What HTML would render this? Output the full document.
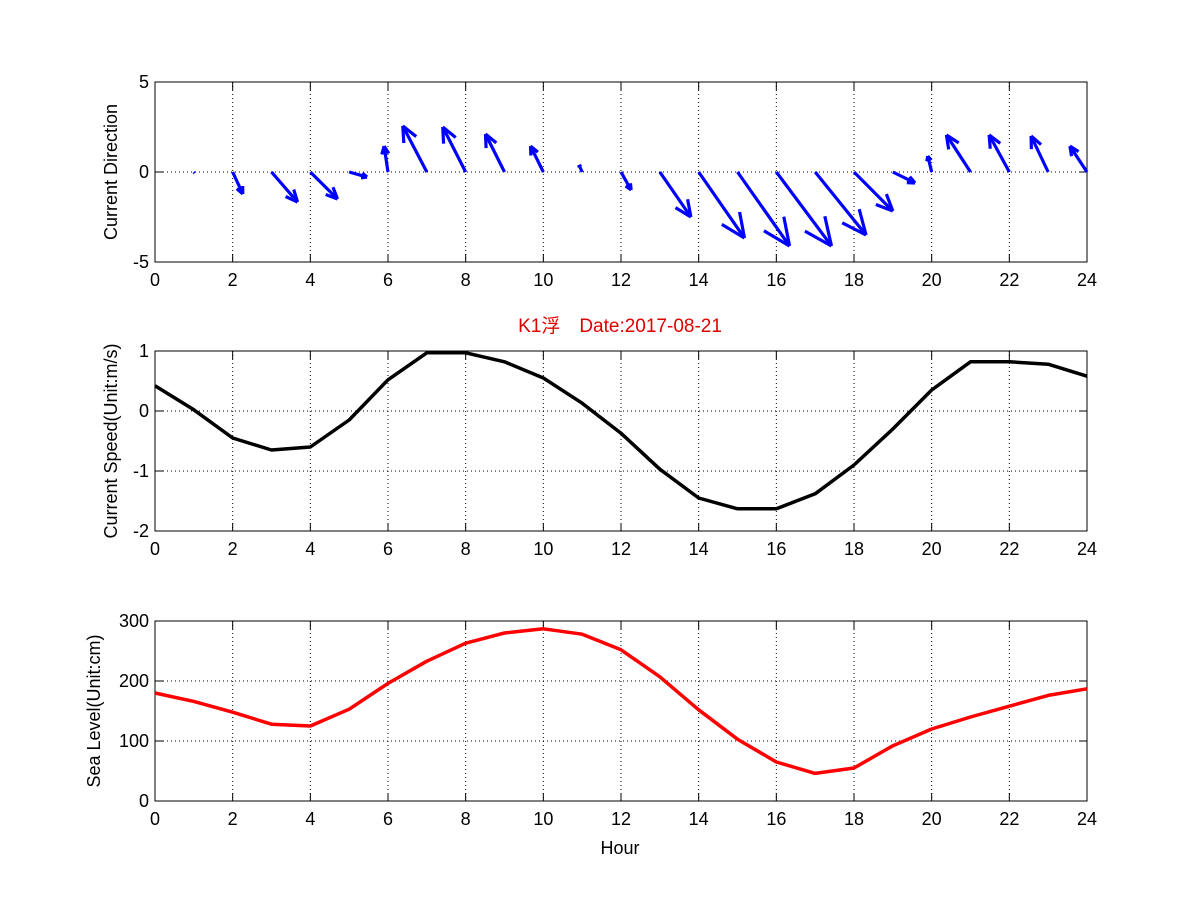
<!DOCTYPE html>
<html><head><meta charset="utf-8"><style>
html,body{margin:0;padding:0;background:#fff;}
svg{display:block;font-family:"Liberation Sans","Noto Sans CJK SC",sans-serif;}
</style></head><body>
<svg id="fig" width="1201" height="901" xmlns="http://www.w3.org/2000/svg">
<rect width="1201" height="901" fill="#fff"/>
<text x="620" y="332" text-anchor="middle" font-size="19" fill="#e00000">K1浮　Date:2017-08-21</text>
<text x="620" y="854" text-anchor="middle" font-size="18">Hour</text>
</svg>
<script>
const hours=[0,1,2,3,4,5,6,7,8,9,10,11,12,13,14,15,16,17,18,19,20,21,22,23,24];
const xTicks=[0,2,4,6,8,10,12,14,16,18,20,22,24];
// quiver components (u in hour-units, v in direction-axis units)
const dirU=[0,0.02,0.26,0.67,0.70,0.46,-0.10,-0.62,-0.59,-0.49,-0.33,-0.08,0.26,0.80,1.18,1.34,1.42,1.31,1.00,0.57,-0.10,-0.62,-0.52,-0.44,-0.44];
const dirV=[0,-0.05,-1.22,-1.67,-1.5,-0.28,1.44,2.56,2.5,2.11,1.44,0.39,-1.0,-2.5,-3.67,-4.11,-4.11,-3.5,-2.17,-0.61,0.89,2.06,2.06,2.0,1.44];
const speed=[0.42,0.02,-0.45,-0.65,-0.6,-0.15,0.52,0.97,0.97,0.82,0.55,0.13,-0.37,-0.97,-1.45,-1.63,-1.63,-1.38,-0.9,-0.3,0.35,0.82,0.82,0.78,0.58];
const sea=[180,166,148,128,125,153,196,233,263,280,287,278,252,207,152,103,65,46,55,92,120,140,158,176,187];
const dirTicks=[-5,0,5];
const speedTicks=[-2,-1,0,1];
const seaTicks=[0,100,200,300];

const NS='http://www.w3.org/2000/svg';
const svg=document.getElementById('fig');
const L=155,R=1087;
const xs=h=>L+(h-0)/(24-0)*(R-L);
function mk(tag,attrs,parent){const e=document.createElementNS(NS,tag);for(const k in attrs)e.setAttribute(k,attrs[k]);(parent||svg).appendChild(e);return e;}

function axes(name,top,bot,ymin,ymax,yt,ylabel,labelX){
  const ys=v=>bot-(v-ymin)/(ymax-ymin)*(bot-top);
  const g=mk('g',{});
  
  
  xTicks.forEach(t=>{
    const x=xs(t);
    if(t>0&&t<24){const gl=mk('line',{x1:x,x2:x,y1:top,y2:bot,stroke:'#000','stroke-width':1,'stroke-dasharray':'1,3'},g);
      }
    mk('line',{x1:x,x2:x,y1:bot,y2:bot-8,stroke:'#000'},g);
    mk('line',{x1:x,x2:x,y1:top,y2:top+8,stroke:'#000'},g);
    const tx=mk('text',{x:x,y:bot+24,'text-anchor':'middle','font-size':18},g);
    tx.textContent=t;
    
  });
  yt.forEach(t=>{
    const y=ys(t);
    if(t>ymin&&t<ymax){const gl=mk('line',{x1:L,x2:R,y1:y,y2:y,stroke:'#000','stroke-width':1,'stroke-dasharray':'1,3'},g);
      }
    mk('line',{x1:L,x2:L+8,y1:y,y2:y,stroke:'#000'},g);
    mk('line',{x1:R,x2:R-8,y1:y,y2:y,stroke:'#000'},g);
    const tx=mk('text',{x:L-6,y:y+6,'text-anchor':'end','font-size':18},g);
    tx.textContent=t;
    
  });
  const box=mk('rect',{x:L,y:top,width:R-L,height:bot-top,fill:'none',stroke:'#000','stroke-width':1},g);
  
  const cy=(top+bot)/2;
  const yl=mk('text',{x:labelX,y:cy,'text-anchor':'middle','font-size':18,transform:`rotate(-90 ${labelX} ${cy})`},g);
  yl.textContent=ylabel;
  
  return ys;
}

// Panel 1: quiver
const ys1=axes('direction-panel',82,262,-5,5,dirTicks,'Current Direction',117);
const qg=mk('g',{stroke:'#0000ff','stroke-width':3.2,fill:'none','stroke-linecap':'butt'});


hours.forEach((h,i)=>{
  const x0=xs(h),y0=ys1(0);
  const x1=xs(h+dirU[i]),y1=ys1(dirV[i]);
  const dx=x1-x0,dy=y1-y0,len=Math.hypot(dx,dy);
  if(len<0.5)return;
  const a=mk('g',{},qg);
  
  
  mk('line',{x1:x0,y1:y0,x2:x1,y2:y1},a);
  const hl=len*0.33,ang=Math.atan2(dy,dx),sp=0.42;
  [ang+Math.PI-sp,ang+Math.PI+sp].forEach(b=>{
    mk('line',{x1:x1,y1:y1,x2:x1+hl*Math.cos(b),y2:y1+hl*Math.sin(b)},a);
  });
});

// Panel 2: speed
const ys2=axes('speed-panel',351,531,-2,1,speedTicks,'Current Speed(Unit:m/s)',117);
const sp=mk('polyline',{points:hours.map((h,i)=>xs(h)+','+ys2(speed[i])).join(' '),fill:'none',stroke:'#000','stroke-width':3.5,'stroke-linejoin':'round'});



// Panel 3: sea level
const ys3=axes('sea-level-panel',621,801,0,300,seaTicks,'Sea Level(Unit:cm)',100);
const sl=mk('polyline',{points:hours.map((h,i)=>xs(h)+','+ys3(sea[i])).join(' '),fill:'none',stroke:'#ff0000','stroke-width':3.5,'stroke-linejoin':'round'});


</script>
</body></html>
